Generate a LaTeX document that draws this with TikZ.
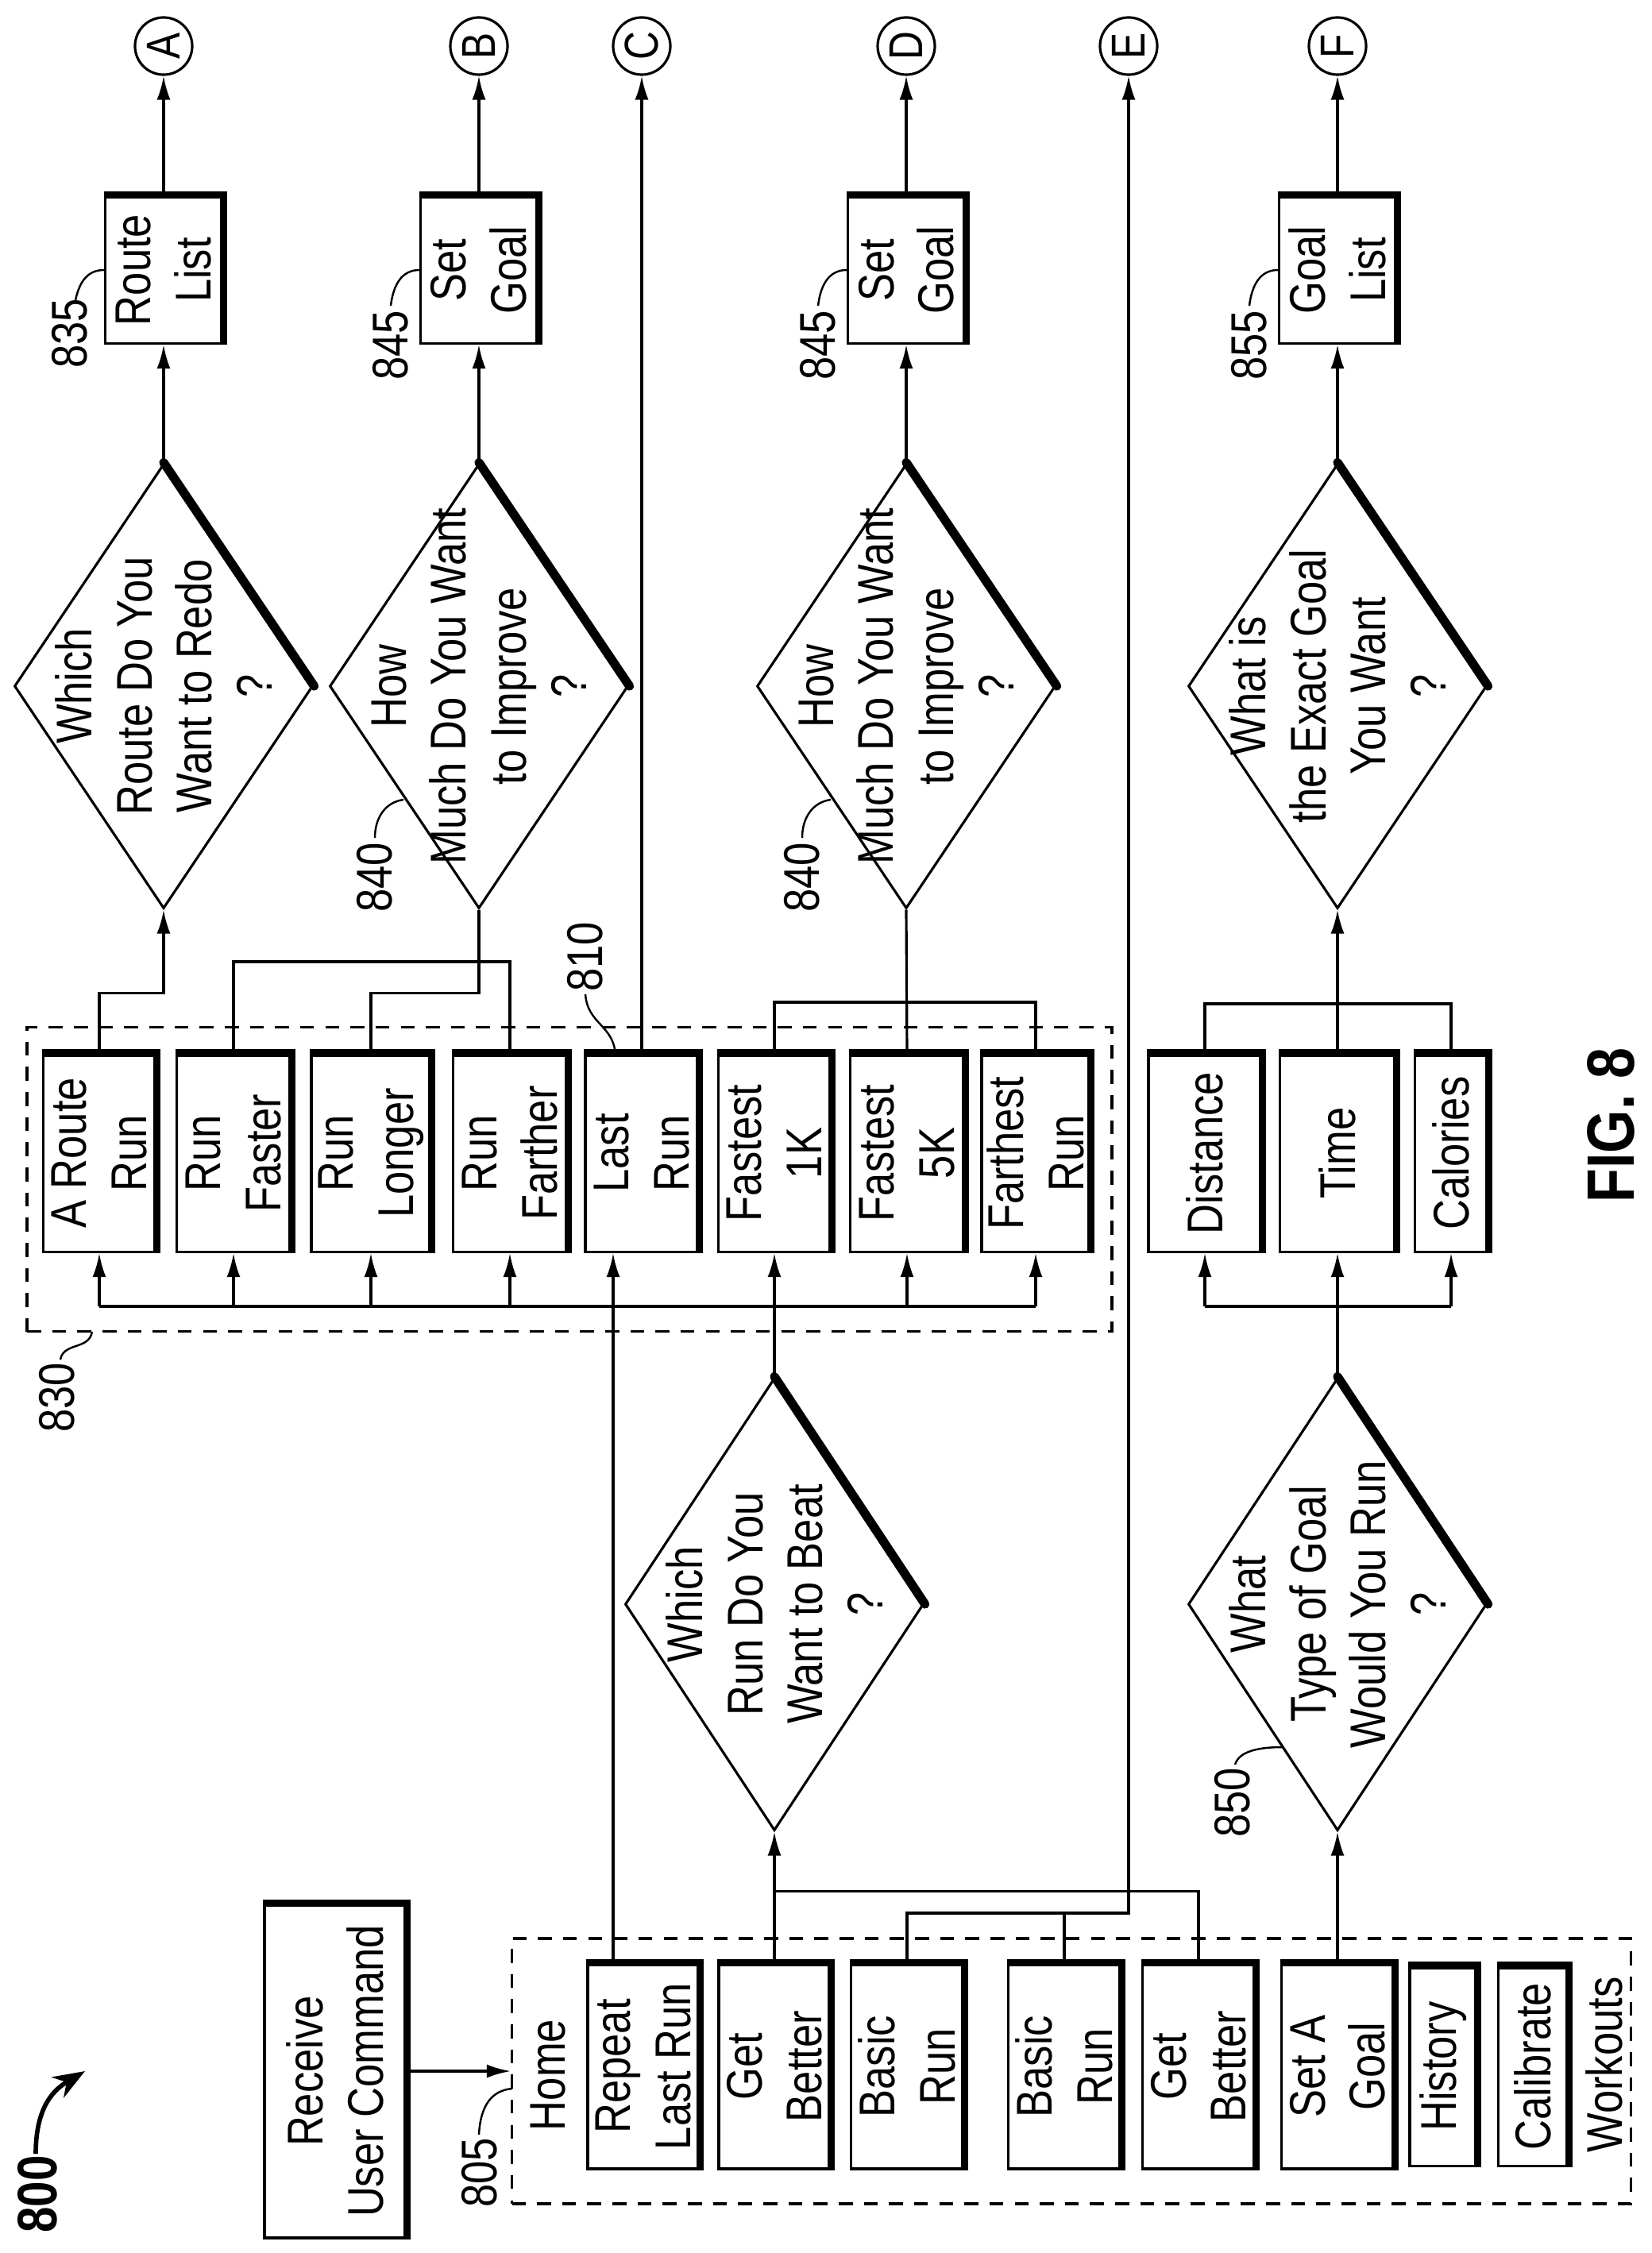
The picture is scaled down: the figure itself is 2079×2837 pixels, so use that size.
\documentclass[tikz,border=0pt]{standalone}
\usepackage{fontspec}
\setmainfont{Liberation Sans}[FakeStretch=0.83]
\usetikzlibrary{shapes.geometric,arrows.meta,calc}
\begin{document}
\begin{tikzpicture}[x=0.01cm,y=-0.01cm,
  ln/.style={line width=0.9pt},
  arr/.style={ln,-{Latex[length=0.3cm,width=0.17cm]}},
  txt/.style={font=\fontsize{18}{21.5}\selectfont,align=center},
  sz/.style 2 args={minimum width=#1*0.01cm,minimum height=#2*0.01cm},
  box/.style={draw,ln,rotate=90,txt,inner sep=0pt,
    append after command={\pgfextra{\let\bn\tikzlastnode
      \draw[line width=2.6pt] (\bn.north east)--(\bn.south east)--(\bn.south west);}}},
  dia/.style={draw,ln,diamond,rotate=90,inner sep=0pt,
    append after command={\pgfextra{\let\dn\tikzlastnode
      \draw[line width=3.2pt,line cap=round] (\dn.east)--(\dn.south);}}},
  dtxt/.style={rotate=90,txt},
  circ/.style={draw,ln,circle,minimum size=0.72cm,inner sep=0pt,rotate=90,font=\fontsize{17}{20}\selectfont},
  grp/.style={draw,ln,dashed,dash pattern=on 5pt off 4pt,inner sep=0pt},
  lab/.style={rotate=90,font=\fontsize{18}{21}\selectfont},
  lead/.style={line width=0.7pt}]
\useasboundingbox (0,0) rectangle (2079,2837);
% circles
\node[circ] (cA) at (206,58) {A};
\node[circ] (cB) at (603,58) {B};
\node[circ] (cC) at (808,58) {C};
\node[circ] (cD) at (1141,58) {D};
\node[circ] (cE) at (1421,58) {E};
\node[circ] (cF) at (1684,58) {F};
% top boxes
\node[box,sz={185}{147}] (rl) at (206,340) {Route\\List};
\node[box,sz={185}{147}] (sgB) at (603,340) {Set\\Goal};
\node[box,sz={185}{147}] (sgD) at (1141,340) {Set\\Goal};
\node[box,sz={185}{147}] (gl) at (1684,340) {Goal\\List};
% top diamonds
\node[dia,sz={560}{376}] (dA) at (206,864) {};
\node[dtxt] (tA) at (206,864) {Which\\Route Do You\\Want to Redo\\?};
\node[dia,sz={560}{376}] (dB) at (603,864) {};
\node[dtxt] (tB) at (603,864) {How\\Much Do You Want\\to Improve\\?};
\node[dia,sz={560}{376}] (dD) at (1141,864) {};
\node[dtxt] (tD) at (1141,864) {How\\Much Do You Want\\to Improve\\?};
\node[dia,sz={560}{376}] (dF) at (1684,864) {};
\node[dtxt] (tF) at (1684,864) {What is\\the Exact Goal\\You Want\\?};
% group 830
\node[grp,sz={1366}{383}] (g830) at (717,1485) {};
\node[box,sz={249}{141}] (rr) at (125,1452) {A Route\\Run};
\node[box,sz={249}{143}] (rf) at (294,1452) {Run\\Faster};
\node[box,sz={249}{150}] (rlg) at (467,1452) {Run\\Longer};
\node[box,sz={249}{143}] (rfa) at (642,1452) {Run\\Farther};
\node[box,sz={249}{142}] (lr) at (808,1452) {Last\\Run};
\node[box,sz={249}{141}] (f1) at (975,1452) {Fastest\\1K};
\node[box,sz={249}{143}] (f5) at (1142,1452) {Fastest\\5K};
\node[box,sz={249}{136}] (fr) at (1304,1452) {Farthest\\Run};
\node[box,sz={249}{142}] (di) at (1517,1452) {Distance};
\node[box,sz={249}{145}] (tm) at (1684,1452) {Time};
\node[box,sz={249}{91}] (ca) at (1827,1452) {Calories};
% lower diamonds
\node[dia,sz={570}{376}] (dW) at (975,2020) {};
\node[dtxt] (tW) at (975,2020) {Which\\Run Do You\\Want to Beat\\?};
\node[dia,sz={570}{376}] (dT) at (1684,2020) {};
\node[dtxt] (tT) at (1684,2020) {What\\Type of Goal\\Would You Run\\?};
% receive and home
\node[box,sz={420}{178}] (rc) at (422,2608) {Receive\\User Command};
\node[grp,sz={1409}{334}] (home) at (1349,2608) {};
\node[dtxt] (hm) at (690,2613) {Home};
\node[box,sz={258}{140}] (rep) at (810,2602) {Repeat\\Last Run};
\node[box,sz={258}{140}] (gb) at (975,2602) {Get\\Better};
\node[box,sz={258}{141}] (br) at (1142,2602) {Basic\\Run};
\node[box,sz={258}{141}] (br2) at (1340,2602) {Basic\\Run};
\node[box,sz={258}{141}] (gb2) at (1509,2602) {Get\\Better};
\node[box,sz={258}{141}] (sag) at (1684,2602) {Set A\\Goal};
\node[box,sz={251}{84}] (hi) at (1817,2602) {History};
\node[box,sz={251}{87}] (cb) at (1930,2602) {Calibrate};
\node[dtxt] (wo) at (2020,2600) {Workouts};
% connectors top
\foreach \b/\c in {rl/cA,sgB/cB,sgD/cD,gl/cF} \draw[arr] (\b.east) -- (\c.west);
\draw[arr] (lr.east) -- (cC.west);
\foreach \d/\b in {dA/rl,dB/sgB,dD/sgD,dF/gl} \draw[arr] (\d.east) -- (\b.west);
\draw[arr] (rr.east) |- ($(dA.west)+(0,105)$) -- (dA.west);
\draw[ln] (rf.east) |- ($(rfa.east)+(0,-115)$) -- (rfa.east);
\draw[ln] (rlg.east) |- ($(dB.west)+(0,105)$) -- (dB.west);
\draw[ln] (f1.east) |- ($(fr.east)+(0,-64)$) -- (fr.east);
\draw[ln] (dD.west) -- (f5.east);
% bus 830
\coordinate (bus) at (0,1645);
\draw[ln] (rr.west |- bus) -- (fr.west |- bus);
\foreach \b in {rr,rf,rlg,rfa,f5,fr} \draw[arr] (\b.west |- bus) -- (\b.west);
\draw[arr] (dW.east) -- (f1.west);
% goal branch
\coordinate (tb) at (0,1264);
\draw[ln] (di.east) -- (di.east |- tb) -- (ca.east |- tb) -- (ca.east);
\draw[arr] (tm.east) -- (dF.west);
\draw[ln] (di.west |- bus) -- (ca.west |- bus);
\draw[arr] (dT.east) -- (tm.west);
\draw[arr] (di.west |- bus) -- (di.west);
\draw[arr] (ca.west |- bus) -- (ca.west);
% home connectors
\draw[arr] (rc.south) -- (home.west);
\coordinate (rt) at ($(rep.east)+(-38,0)$);
\draw[arr] (rt) -- (rt |- lr.west);
\draw[arr] (gb.east) -- (dW.west);
\draw[ln] (gb2.east) |- ($(dW.west)+(0,75)$);
\coordinate (eb) at (1421,2409);
\draw[arr] (br.east) |- (eb) -- (cE.west);
\draw[ln] (br2.east) -- (br2.east |- eb);
\draw[arr] (sag.east) -- (dT.west);
% reference labels
\node[lab] (l835) at (88,420) {835};
\draw[lead] (rl.north) .. controls (110,340) and (100,355) .. (95,378);
\node[lab] (l845a) at (492,435) {845};
\draw[lead] (sgB.north) .. controls (505,340) and (495,360) .. (492,385);
\node[lab] (l845b) at (1030,435) {845};
\draw[lead] (sgD.north) .. controls (1043,340) and (1033,360) .. (1030,385);
\node[lab] (l855) at (1573,435) {855};
\draw[lead] (gl.north) .. controls (1586,340) and (1576,360) .. (1573,385);
\node[lab] (l840a) at (472,1105) {840};
\coordinate (e840a) at (508,1007);
\draw[lead] (e840a) .. controls (485,1010) and (472,1030) .. (472,1055);
\node[lab] (l840b) at (1010,1105) {840};
\coordinate (e840b) at (1046,1007);
\draw[lead] (e840b) .. controls (1023,1010) and (1010,1030) .. (1010,1055);
\node[lab] (l850) at (1552,2270) {850};
\coordinate (e850) at (1615,2200);
\draw[lead] (e850) .. controls (1585,2200) and (1560,2205) .. (1555,2222);
\node[lab] (l830) at (72,1760) {830};
\coordinate (e830) at (116,1677);
\draw[lead] (e830) .. controls (112,1700) and (80,1690) .. (76,1712);
\node[lab] (l810) at (737,1205) {810};
\coordinate (e810) at (775,1328);
\draw[lead] (e810) .. controls (772,1290) and (740,1290) .. (737,1252);
\node[lab] (l805) at (604,2736) {805};
\coordinate (e805) at (645,2630);
\draw[lead] (e805) .. controls (620,2632) and (605,2650) .. (603,2688);
\node[rotate=90,font=\bfseries\fontsize{20}{24}\selectfont] (l800) at (47,2763) {800};
\coordinate (s800) at (45,2712);
\coordinate (t800) at (107,2608);
\draw[line width=1.6pt,-{Stealth[length=0.4cm,width=0.3cm]}] (s800) .. controls (45,2650) and (70,2630) .. (t800);
\node[rotate=90,font=\bfseries\fontsize{24}{28}\selectfont] (fig) at (2028,1417) {FIG. 8};
\end{tikzpicture}
\end{document}
